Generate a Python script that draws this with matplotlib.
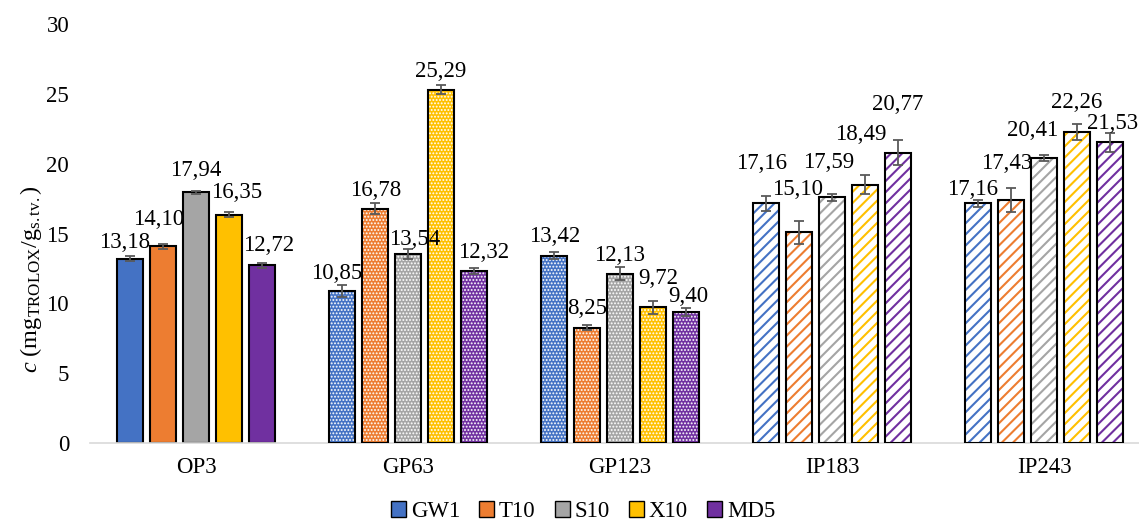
import numpy as np
import matplotlib
matplotlib.use('Agg')
import matplotlib.pyplot as plt
from matplotlib.patches import Patch

#######################################################
# Data
#######################################################
groups = ['OP3', 'GP63', 'GP123', 'IP183', 'IP243']
series = ['GW1', 'T10', 'S10', 'X10', 'MD5']
colors = ['#4472C4', '#ED7D31', '#A5A5A5', '#FFC000', '#7030A0']

# values per series (one entry per group)
gw1 = [13.18, 10.85, 13.42, 17.16, 17.16]
t10 = [14.10, 16.78, 8.25, 15.10, 17.43]
s10 = [17.94, 13.54, 12.13, 17.59, 20.41]
x10 = [16.35, 25.29, 9.72, 18.49, 22.26]
md5 = [12.72, 12.32, 9.40, 20.77, 21.53]

gw1_err = [0.18, 0.43, 0.26, 0.54, 0.27]
t10_err = [0.18, 0.40, 0.18, 0.83, 0.86]
s10_err = [0.10, 0.36, 0.48, 0.24, 0.21]
x10_err = [0.18, 0.32, 0.45, 0.69, 0.56]
md5_err = [0.18, 0.24, 0.30, 0.90, 0.69]

values = [gw1, t10, s10, x10, md5]
errors = [gw1_err, t10_err, s10_err, x10_err, md5_err]

# fill style per group: solid, dotted, dotted, striped, striped
group_style = ['solid', 'dots', 'dots', 'stripes', 'stripes']

# label offsets (pixels, dx right / dy up from bar top), series x group
label_dx = [[-6, -6, 0, -5, -6],
            [-5, 0, 0, -2, -5],
            [0, 7, 0, -3, -11],
            [8, 0, 5, -4, 0],
            [7, 10, 3, 0, 3]]
label_dy = [[16, 18, 19, 40, 14],
            [27, 18, 19, 43, 36],
            [22, 14, 18, 35, 27],
            [22, 18, 29, 50, 30],
            [20, 18, 15, 48, 19]]

#######################################################
# Plot
#######################################################
plt.rcParams['font.family'] = 'Liberation Serif'
plt.rcParams['mathtext.fontset'] = 'custom'
plt.rcParams['mathtext.rm'] = 'Liberation Serif'
plt.rcParams['mathtext.it'] = 'Liberation Serif:italic'

fig = plt.figure(figsize=(11.39, 5.22), dpi=100)
# plot area runs a bit past the right edge, like the original
ax = fig.add_axes([90/1139, 1-443/522, 1060/1139, 419/522])

x = np.arange(len(groups))
step = 0.1547
width = 0.1226
fs = 16.5

for si in range(len(series)):
    xs = x + (si - 2) * step
    for gi in range(len(groups)):
        v = values[si][gi]
        st = group_style[gi]
        if st == 'solid':
            ax.bar(xs[gi], v, width, color=colors[si], edgecolor='black',
                   linewidth=1.5, zorder=2)
        elif st == 'dots':
            plt.rcParams['hatch.linewidth'] = 0.9
            ax.bar(xs[gi], v, width, color=colors[si], edgecolor='white',
                   hatch='.....', linewidth=0, zorder=2)
            ax.bar(xs[gi], v, width, color='none', edgecolor='black',
                   linewidth=1.5, zorder=3)
        else:
            plt.rcParams['hatch.linewidth'] = 1.5
            ax.bar(xs[gi], v, width, color='white', edgecolor=colors[si],
                   hatch='///', linewidth=0, zorder=2)
            ax.bar(xs[gi], v, width, color='none', edgecolor='black',
                   linewidth=1.5, zorder=3)
        ax.annotate(('%.2f' % v).replace('.', ','), (xs[gi], v),
                    xytext=(label_dx[si][gi] * 0.72, label_dy[si][gi] * 0.72),
                    textcoords='offset points', ha='center', va='center',
                    fontsize=fs, zorder=5)
    ax.errorbar(xs, values[si], yerr=errors[si], fmt='none', ecolor='#595959',
                elinewidth=1.3, capsize=3.5, capthick=1.3, zorder=4)

ax.set_xlim(-0.5, len(groups) - 0.5)
ax.set_ylim(0, 30)
ax.set_yticks(np.arange(0, 31, 5))
ax.set_xticks(x)
ax.set_xticklabels(groups)
ax.tick_params(axis='both', length=0, labelsize=fs, colors='black')
ax.tick_params(axis='y', pad=15)
ax.tick_params(axis='x', pad=10)

for sp in ['top', 'right', 'left']:
    ax.spines[sp].set_visible(False)
ax.spines['bottom'].set_color('#D9D9D9')
ax.spines['bottom'].set_linewidth(1.2)

ax.set_ylabel(r'$\it{c}$ (mg$_{\rm TROLOX}$/g$_{\rm s.tv.}$)', fontsize=17.5)
ax.yaxis.set_label_coords(-0.043, 0.39)

handles = [Patch(facecolor=c, edgecolor='black', linewidth=1.0) for c in colors]
fig.legend(handles, series, loc='center', bbox_to_anchor=(0.512, 0.02),
           ncol=5, frameon=False, fontsize=fs, handlelength=0.65,
           handleheight=0.65, handletextpad=0.2, columnspacing=0.85)

plt.savefig('out.png', dpi=100)
plt.close()
